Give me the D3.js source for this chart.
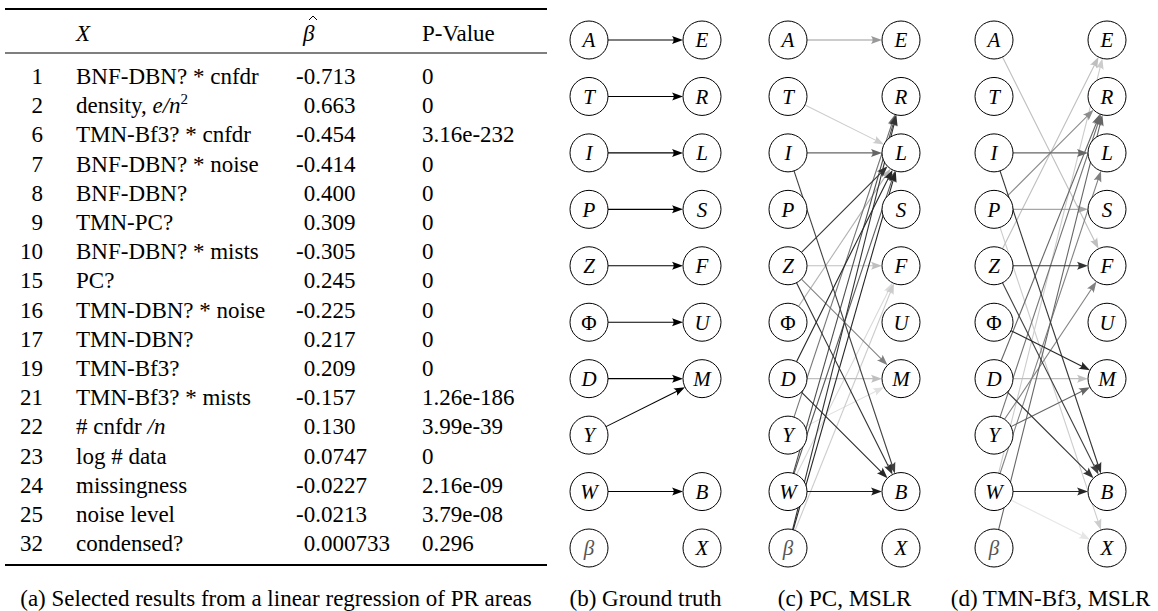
<!DOCTYPE html>
<html>
<head>
<meta charset="utf-8">
<script src="https://cdn.jsdelivr.net/npm/d3@7"></script>
</head>
<body style="margin:0">
<div id="chart"></div>
<script>
// ---- table data (a) ----
const rowIds = ["1", "2", "6", "7", "8", "9", "10", "15", "16", "17", "19", "21", "22", "23", "24", "25", "32"];
const rowLabels = ["BNF-DBN? * cnfdr", "density, $e/n^2$", "TMN-Bf3? * cnfdr", "BNF-DBN? * noise", "BNF-DBN?",
  "TMN-PC?", "BNF-DBN? * mists", "PC?", "TMN-DBN? * noise", "TMN-DBN?", "TMN-Bf3?", "TMN-Bf3? * mists",
  "# cnfdr $/n$", "log # data", "missingness", "noise level", "condensed?"];
const betaValues = ["-0.713", "0.663", "-0.454", "-0.414", "0.400", "0.309", "-0.305", "0.245", "-0.225", "0.217",
  "0.209", "-0.157", "0.130", "0.0747", "-0.0227", "-0.0213", "0.000733"];
const pValues = ["0", "0", "3.16e-232", "0", "0", "0", "0", "0", "0", "0", "0", "1.26e-186", "3.99e-39", "0",
  "2.16e-09", "3.79e-08", "0.296"];

// ---- graph data (b, c, d) ----
const leftNodes = ["A", "T", "I", "P", "Z", "Φ", "D", "Y", "W", "β"];
const rightNodes = ["E", "R", "L", "S", "F", "U", "M", null, "B", "X"];
const panels = ["b", "c", "d"];
const captions = ["(b) Ground truth", "(c) PC, MSLR", "(d) TMN-Bf3, MSLR"];

// [source, target, strength]
const edgesTruth = [
  ["A", "E", 1], ["T", "R", 1], ["I", "L", 1], ["P", "S", 1], ["Z", "F", 1],
  ["Φ", "U", 1], ["D", "M", 1], ["Y", "M", 1], ["W", "B", 1]
];
const edgesPC = [
  ["A", "E", 0.4], ["T", "L", 0.2], ["I", "L", 0.6], ["I", "B", 0.75],
  ["Z", "L", 0.8], ["Z", "F", 0.25], ["Z", "M", 0.5], ["Z", "B", 0.8],
  ["Φ", "L", 0.3], ["D", "L", 0.85], ["D", "M", 0.25], ["D", "B", 0.85],
  ["Y", "R", 0.55], ["Y", "M", 0.12], ["W", "R", 0.7], ["W", "L", 0.65],
  ["W", "F", 0.15], ["W", "B", 0.9], ["β", "R", 0.8], ["β", "L", 0.85], ["β", "F", 0.2]
];
const edgesTMN = [
  ["A", "F", 0.25], ["I", "L", 0.6], ["I", "B", 0.8], ["P", "R", 0.45],
  ["P", "S", 0.35], ["P", "X", 0.2], ["Z", "E", 0.25], ["Z", "F", 0.8],
  ["Z", "B", 0.75], ["Φ", "M", 0.85], ["D", "R", 0.6], ["D", "M", 0.25],
  ["D", "B", 0.8], ["Y", "R", 0.55], ["Y", "F", 0.5], ["Y", "M", 0.6],
  ["W", "E", 0.2], ["W", "L", 0.5], ["W", "B", 0.85], ["W", "X", 0.1], ["β", "R", 0.6]
];
const panelEdges = {b: edgesTruth, c: edgesPC, d: edgesTMN};

const width = 1158, height = 611;
const fontSize = 23;

const addText = (parent, size) => parent.append("text")
  .style("font-family", '"Liberation Serif"')
  .style("font-size", size + "px");

const svg = d3.select("#chart").append("svg")
  .attr("width", width)
  .attr("height", height)
  .style("display", "block");

// ================= table =================
const tableLeft = 5, tableRight = 547;

const rowY = d3.scalePoint()
  .domain(d3.range(rowIds.length))
  .range([84, 84 + 29.2 * (rowIds.length - 1)]);

const col = {id: 43, label: 76, beta: 296, p: 422};
const minusW = 7.7;

const table = svg.append("g");

[[9, 2], [53, 1.2], [565, 2]].forEach(([y, sw]) => {
  table.append("line")
    .attr("x1", tableLeft).attr("x2", tableRight)
    .attr("y1", y).attr("y2", y)
    .attr("stroke", "#000").attr("stroke-width", sw);
});

// header
addText(table, fontSize).attr("x", col.label).attr("y", 41)
  .style("font-style", "italic").text("X");
addText(table, fontSize).attr("x", col.beta + 7).attr("y", 41)
  .style("font-style", "italic").text("β");
table.append("path")
  .attr("d", "M309,20L313,16L317,20")
  .attr("fill", "none")
  .attr("stroke", "#000")
  .attr("stroke-width", 1);
addText(table, fontSize).attr("x", col.p).attr("y", 41).text("P-Value");

const rows = table.selectAll(".row")
  .data(rowIds)
  .enter().append("g")
  .attr("class", "row")
  .attr("transform", (d, i) => `translate(0, ${rowY(i)})`);

rows.each(function(d, i) {
  const r = d3.select(this);
  addText(r, fontSize)
    .attr("x", col.id)
    .attr("text-anchor", "end")
    .text(d);

  const lab = addText(r, fontSize).attr("x", col.label);
  rowLabels[i].split("$").forEach((part, k) => {
    if (!part) return;
    if (k % 2 === 0) {
      lab.append("tspan").text(part);
    } else {
      const [base, sup] = part.split("^");
      lab.append("tspan").style("font-style", "italic").text(base);
      if (sup) {
        lab.append("tspan").attr("dy", -9).style("font-size", "15px").text(sup);
      }
    }
  });

  addText(r, fontSize)
    .attr("x", col.beta + (betaValues[i].startsWith("-") ? 0 : minusW))
    .text(betaValues[i]);

  addText(r, fontSize)
    .attr("x", col.p)
    .text(pValues[i]);
});

addText(svg, fontSize)
  .attr("x", (tableLeft + tableRight) / 2)
  .attr("y", 606)
  .attr("text-anchor", "middle")
  .text("(a) Selected results from a linear regression of PR areas");

// ================= graphs =================
const nodeR = 19;
const nodeY = d3.scalePoint()
  .domain(d3.range(leftNodes.length))
  .range([40, 548]);
const panelX = d3.scaleOrdinal()
  .domain(panels)
  .range([589, 788, 994]);
const sideX = d3.scalePoint()
  .domain(["left", "right"])
  .range([0, 113]);
const edgeColor = d3.scaleLinear()
  .domain([0, 1])
  .range(["#ffffff", "#000000"]);

const arrowLen = 11, arrowHalf = 4;

panels.forEach((p, pi) => {
  const g = svg.append("g").attr("transform", `translate(${panelX(p)}, 0)`);

  const pos = {};
  leftNodes.forEach((n, i) => { pos[n] = {x: sideX("left"), y: nodeY(i)}; });
  rightNodes.forEach((n, i) => { if (n) pos[n] = {x: sideX("right"), y: nodeY(i)}; });

  const edges = panelEdges[p].slice().sort((a, b) => a[2] - b[2]);

  const eg = g.append("g");
  edges.forEach(([s, t, w]) => {
    const a = pos[s], b = pos[t];
    const dx = b.x - a.x, dy = b.y - a.y;
    const len = Math.hypot(dx, dy);
    const ux = dx / len, uy = dy / len;
    const x1 = a.x + ux * nodeR, y1 = a.y + uy * nodeR;
    const tx = b.x - ux * nodeR, ty = b.y - uy * nodeR;
    const bx = tx - ux * arrowLen, by = ty - uy * arrowLen;
    const c = edgeColor(w);
    eg.append("line")
      .attr("x1", x1).attr("y1", y1)
      .attr("x2", bx + ux * 2).attr("y2", by + uy * 2)
      .attr("stroke", c)
      .attr("stroke-width", 1.1);
    eg.append("path")
      .attr("d", `M${tx},${ty}L${bx - uy * arrowHalf},${by + ux * arrowHalf}` +
        `Q${tx - ux * arrowLen * 0.7},${ty - uy * arrowLen * 0.7} ${bx + uy * arrowHalf},${by - ux * arrowHalf}Z`)
      .attr("fill", c);
  });

  Object.keys(pos).forEach(n => {
    const ng = g.append("g")
      .attr("transform", `translate(${pos[n].x}, ${pos[n].y})`);
    ng.append("circle")
      .attr("r", nodeR)
      .attr("fill", "#fff")
      .attr("stroke", "#000")
      .attr("stroke-width", 1);
    addText(ng, 21)
      .attr("text-anchor", "middle")
      .attr("dy", "0.35em")
      .style("font-style", n === "Φ" ? "normal" : "italic")
      .attr("fill", n === "β" ? "#555" : "#000")
      .text(n);
  });

  addText(svg, fontSize)
    .attr("x", panelX(p) + sideX("right") / 2)
    .attr("y", 606)
    .attr("text-anchor", "middle")
    .text(captions[pi]);
});
</script>
</body>
</html>
